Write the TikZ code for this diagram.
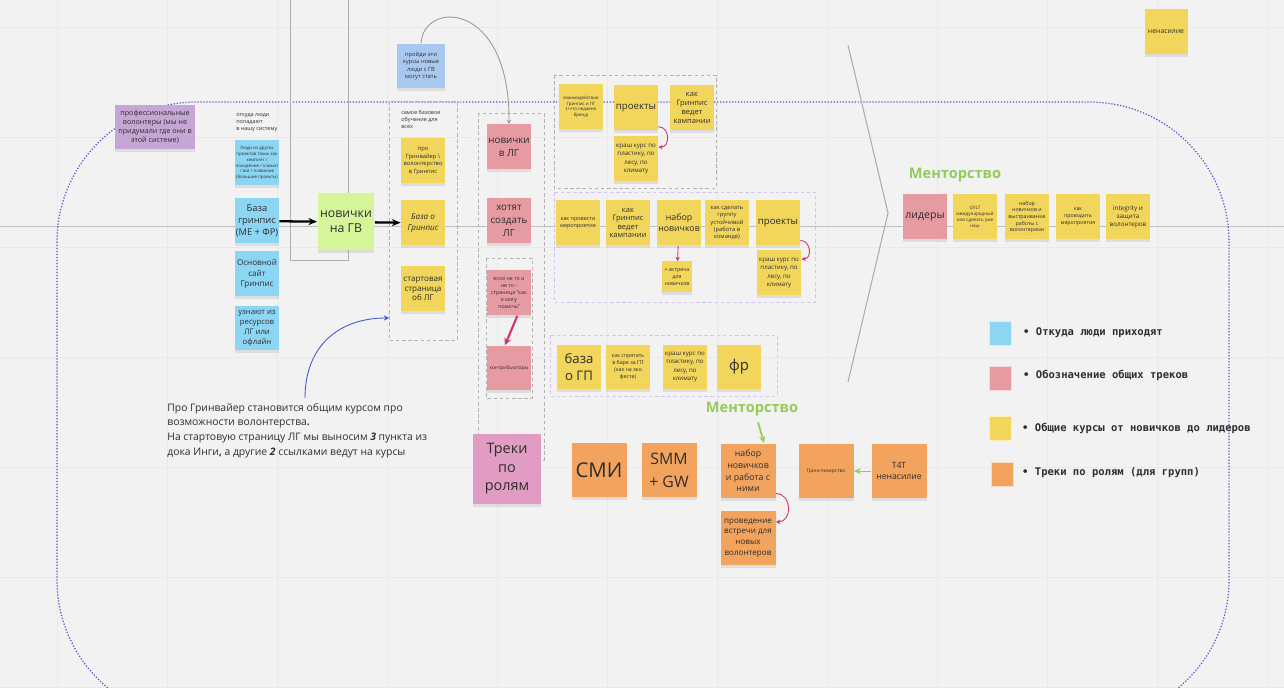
\documentclass[tikz,border=0pt]{standalone}
\usepackage{fontspec}
\setmainfont{Open Sans}
\newfontfamily\legendfont{DejaVu Sans Mono}
\usetikzlibrary{arrows.meta,shadows}
\definecolor{boardbg}{HTML}{F2F2F2}
\definecolor{gridc}{HTML}{E9E9E9}
\definecolor{ink}{HTML}{2E2E2E}
\definecolor{stickyY}{HTML}{F2D55B}
\definecolor{stickyB}{HTML}{8CD6F4}
\definecolor{stickyP}{HTML}{E69AA2}
\definecolor{stickyO}{HTML}{F2A35E}
\definecolor{stickyV}{HTML}{C5A6D5}
\definecolor{stickyL}{HTML}{A9C8F0}
\definecolor{stickyG}{HTML}{D6F49A}
\definecolor{stickyM}{HTML}{E19CC3}
\definecolor{lavender}{HTML}{D2C6EE}
\definecolor{frame}{HTML}{5B4FD0}
\definecolor{mentgreen}{HTML}{94CB5A}
\definecolor{pinkarrow}{HTML}{D6336C}
\definecolor{bluearrow}{HTML}{4556D6}
\tikzset{
  note/.style  ={draw=none, align=center, inner sep=0.5pt, text=ink,
                 minimum width=0.88cm, minimum height=0.9cm,
                 drop shadow={shadow xshift=0pt, shadow yshift=-1.6pt, opacity=0.18}},
  ynote/.style ={note, fill=stickyY},
  bnote/.style ={note, fill=stickyB},
  pnote/.style ={note, fill=stickyP},
  onote/.style ={note, fill=stickyO, minimum width=1.1cm, minimum height=1.1cm},
  legsq/.style ={fill=#1, draw=white!60!#1, minimum width=0.44cm, minimum height=0.48cm, inner sep=0pt},
  legtext/.style={anchor=west, text=ink, font=\legendfont\bfseries\fontsize{6}{7}\selectfont},
  ment/.style  ={text=mentgreen, font=\bfseries\fontsize{8.3}{10}\selectfont},
  dashbox/.style={draw=black!30, dash pattern=on 2pt off 1.5pt, line width=0.45pt},
  lavbox/.style={draw=lavender, dash pattern=on 2pt off 1.5pt, line width=0.55pt},
  blkarr/.style={draw=black, line width=1.3pt, -{Stealth[length=5pt,width=4pt]}},
  pinkarr/.style={draw=pinkarrow, line width=0.5pt, -{Stealth[length=2.5pt,width=2.5pt]}},
  greenarr/.style={draw=mentgreen, line width=1pt, -{Stealth[length=4pt,width=3.5pt]}},
}
\begin{document}
\begin{tikzpicture}[x=0.02cm, y=-0.02cm]
  \useasboundingbox (0,0) rectangle (1284,688);
  \fill[boardbg] (0,0) rectangle (1284,688);
  % board grid
  \foreach \x in {57,167,...,1267} \draw[gridc, line width=0.5pt] (\x,0) -- (\x,688);
  \foreach \y in {27,137,...,687} \draw[gridc, line width=0.5pt] (0,\y) -- (1284,\y);
  \draw[black!25, line width=0.5pt] (0,226) -- (1284,226);
  % frames and groups
  \draw[frame, densely dotted, line width=0.7pt, rounded corners=2.8cm] (57,102) rectangle (1229,720);
  \draw[black!32, line width=0.4pt] (290,-5) -- (290,260) -- (348,260) -- (348,-5);
  \draw[black!32, line width=0.6pt] (848,45) -- (888,213) -- (848,382);
  \draw[dashbox] (389,101) rectangle (457,340);
  \draw[dashbox] (478,113) rectangle (544,460);
  \draw[dashbox] (486,258) rectangle (532,398);
  \draw[dashbox] (554,75) rectangle (716,188);
  \draw[lavbox] (554,192) rectangle (815,302);
  \draw[lavbox] (550,335) rectangle (777,396);

  % where people come from
  \node[note, fill=stickyV, minimum width=1.6cm, minimum height=0.88cm,
        font=\fontsize{4.1}{5}\selectfont] (profvol) at (155,127)
        {профессиональные\\волонтеры (мы не\\придумали где они в\\этой системе)};
  \node[anchor=north west, align=left, inner sep=0pt, text=ink,
        font=\fontsize{3.1}{4}\selectfont] (whence) at (236,113)
        {откуда люди\\попадают\\в нашу систему};
  \node[bnote, font=\fontsize{2.5}{3.4}\selectfont] (otherproj) at (257,163)
        {Люди из других\\проектов таких как\\кемпинг /\\покорение / климат\\/ все / плавание\\(большие проекты)};
  \node[bnote, font=\fontsize{5.3}{6.6}\selectfont] (gpbase) at (257,221) {База\\гринпис\\(МЕ + ФР)};
  \node[bnote, font=\fontsize{4.6}{6}\selectfont] (mainsite) at (257,274) {Основной\\сайт\\Гринпис};
  \node[bnote, font=\fontsize{4.4}{5.7}\selectfont] (lgres) at (257,328) {узнают из\\ресурсов\\ЛГ или\\офлайн};
  \node[note, fill=stickyG, minimum width=1.14cm, minimum height=1.14cm,
        font=\fontsize{7}{8.5}\selectfont] (novGV) at (346,222) {новички\\на ГВ};

  % base courses
  \node[note, fill=stickyL, minimum width=0.96cm, minimum height=0.88cm,
        font=\fontsize{3.3}{4.2}\selectfont] (takecourse) at (421,66)
        {пройди эти\\курсы новые\\люди с ГВ\\могут стать};
  \node[anchor=north west, align=left, inner sep=0pt, text=ink,
        font=\fontsize{3.1}{4.1}\selectfont] (basic) at (401,110)
        {самое базовое\\обучение для\\всех};
  \node[ynote, font=\fontsize{3.3}{4.3}\selectfont] (aboutGV) at (423,161)
        {про\\Гринвайер \textbackslash\\волонтерство\\в Гринпис};
  \node[ynote, font=\itshape\fontsize{4.6}{5.8}\selectfont] (gpabout) at (423,223) {База о\\Гринпис};
  \node[ynote, font=\fontsize{4.6}{5.3}\selectfont] (startLG) at (423,289) {стартовая\\страница\\об ЛГ};

  % common tracks
  \node[pnote, font=\fontsize{5.6}{7.4}\selectfont] (novLG) at (509,147) {новички\\в ЛГ};
  \node[pnote, font=\fontsize{5.6}{7.4}\selectfont] (wantLG) at (509,221) {хотят\\создать\\ЛГ};
  \node[pnote, font=\fontsize{3}{4}\selectfont] (ifnot) at (509,293)
        {если не то и\\не то -\\страница "как\\я могу\\помочь"};
  \node[pnote, font=\fontsize{2.8}{3.5}\selectfont] (contrib) at (509,368) {контрибьюторы};
  \node[note, fill=stickyM, minimum width=1.36cm, minimum height=1.4cm,
        font=\fontsize{8.2}{10.5}\selectfont] (roles) at (507,469) {Треки\\по\\ролям};

  % first group
  \node[ynote, font=\fontsize{2.5}{3.2}\selectfont] (interact) at (581,107)
        {взаимодействие\\Гринпис и ЛГ\\(+что недавно\\бренд)};
  \node[ynote, font=\fontsize{5.5}{6.5}\selectfont] (projA) at (636,108) {проекты};
  \node[ynote, font=\fontsize{4.3}{5.1}\selectfont] (campA) at (692,108) {как\\Гринпис\\ведет\\кампании};
  \node[ynote, font=\fontsize{3.5}{4.7}\selectfont] (crashA) at (636,159)
        {краш курс по\\пластику, по\\лесу, по\\климату};

  % second group
  \node[ynote, font=\fontsize{3.1}{4.1}\selectfont] (event) at (578,223) {как провести\\мероприятие};
  \node[ynote, font=\fontsize{4.3}{4.9}\selectfont] (campB) at (628,223) {как\\Гринпис\\ведет\\кампании};
  \node[ynote, font=\fontsize{5}{6.2}\selectfont] (recruit) at (679,223) {набор\\новичков};
  \node[ynote, font=\fontsize{3.3}{4.1}\selectfont] (stable) at (727,223)
        {как сделать\\группу\\устойчивой\\(работа в\\команде)};
  \node[ynote, font=\fontsize{5.5}{6.5}\selectfont] (projB) at (778,223) {проекты};
  \node[ynote, minimum width=0.6cm, minimum height=0.62cm,
        font=\fontsize{3}{4}\selectfont] (meet) at (677,277) {+ встреча\\для\\новичков};
  \node[ynote, font=\fontsize{3.5}{4.7}\selectfont] (crashB) at (779,273)
        {краш курс по\\пластику, по\\лесу, по\\климату};

  % third group
  \node[ynote, font=\fontsize{7.5}{10}\selectfont] (gpbasics) at (579,367) {база\\о ГП};
  \node[ynote, font=\fontsize{3}{4}\selectfont] (bar) at (628,367)
        {как спрятать\\в баре за ГП\\(как на эко\\фесте)};
  \node[ynote, font=\fontsize{3.5}{4.7}\selectfont] (crashC) at (685,367)
        {краш курс по\\пластику, по\\лесу, по\\климату};
  \node[ynote, font=\fontsize{8.5}{10}\selectfont] (fr) at (739,367) {фр};

  % mentoring
  \node[ment] (mentA) at (955,175) {Менторство};
  \node[pnote, font=\fontsize{6}{7}\selectfont] (leaders) at (925,217) {лидеры};
  \node[ynote, font=\fontsize{2.6}{3.4}\selectfont] (gylt) at (975,217)
        {GYLT\\международный\\или сделать уже\\наш};
  \node[ynote, font=\fontsize{3}{3.8}\selectfont] (recruitL) at (1027,217)
        {набор\\новичков и\\выстраивание\\работы с\\волонтерами};
  \node[ynote, font=\fontsize{3}{4}\selectfont] (eventL) at (1078,217) {как\\проводить\\мероприятия};
  \node[ynote, font=\fontsize{3.6}{4.5}\selectfont] (integrity) at (1128,217)
        {integrity и\\защита\\волонтеров};
  \node[ynote, minimum width=0.86cm, font=\fontsize{3.9}{4.5}\selectfont] (nonviolA) at (1166,32) {ненасилие};

  % legend
  \node[legsq=stickyB] (legB) at (1000,333) {};
  \node[legtext] (legBt) at (1017,333) {• Откуда люди приходят};
  \node[legsq=stickyP] (legP) at (1000,378) {};
  \node[legtext] (legPt) at (1017,375) {• Обозначение общих треков};
  \node[legsq=stickyY] (legY) at (1000,428) {};
  \node[legtext] (legYt) at (1016,428) {• Общие курсы от новичков до лидеров};
  \node[legsq=stickyO] (legO) at (1002,474) {};
  \node[legtext] (legOt) at (1016,473) {• Треки по ролям (для групп)};

  % roles
  \node[ment] (mentB) at (752,409) {Менторство};
  \node[onote, font=\fontsize{11.6}{13}\selectfont] (smi) at (599,470) {СМИ};
  \node[onote, font=\fontsize{9}{13}\selectfont] (smm) at (669,470) {SMM\\+ GW};
  \node[onote, font=\fontsize{5}{6.6}\selectfont] (recruitO) at (748,471) {набор\\новичков\\и работа с\\ними};
  \node[onote, font=\fontsize{2.8}{3.5}\selectfont] (speak) at (826,471) {Гринспикерство};
  \node[onote, font=\fontsize{4.9}{6.3}\selectfont] (t4t) at (899,471) {T4T\\ненасилие};
  \node[onote, font=\fontsize{4.6}{6.1}\selectfont] (meetO) at (748,538) {проведение\\встречи для\\новых\\волонтеров};

  % note below
  \node[anchor=north west, align=left, inner sep=0pt, text=ink,
        font=\fontsize{5.9}{8.3}\selectfont] (remark) at (167,403)
        {Про Гринвайер становится общим курсом про\\
         возможности волонтерства\textbf{.}\\
         На стартовую страницу ЛГ мы выносим \textbf{\textit{3}} пункта из\\
         дока Инги\textbf{,} а другие \textbf{\textit{2}} ссылками ведут на курсы};
  \coordinate (remarkTop) at (305,398);
  \coordinate (courseEdge) at (389,318);

  % connectors
  \draw[blkarr] (gpbase) -- (novGV);
  \draw[blkarr] (novGV) -- (gpabout);
  \draw[black!40, line width=0.5pt, -{Stealth[length=2.5pt,width=2.5pt]}]
        (takecourse.north) .. controls (423,0) and (510,0) .. (novLG.north);
  \draw[bluearrow, line width=0.5pt, -{Stealth[length=3pt,width=3pt]}]
        (remarkTop) .. controls (305,345) and (340,318) .. (courseEdge);
  \draw[pinkarrow, line width=1.2pt, -{Stealth[length=4pt,width=4pt]}] (ifnot.290) -- (contrib.100);
  \draw[pinkarr] (projA.-40) to[out=0, in=0, looseness=1.5] (crashA.28);
  \draw[pinkarr] (recruit) -- (meet);
  \draw[pinkarr] (projB.-38) to[out=0, in=0, looseness=1.5] (crashB.32);
  \draw[pinkarr] (recruitO.-39) to[out=0, in=0, looseness=1.5] (meetO.30);
  \draw[greenarr] ([xshift=0.12cm]mentB.south) -- (recruitO.60);
  \draw[greenarr, line width=0.5pt] (t4t) -- (speak);
\end{tikzpicture}
\end{document}
